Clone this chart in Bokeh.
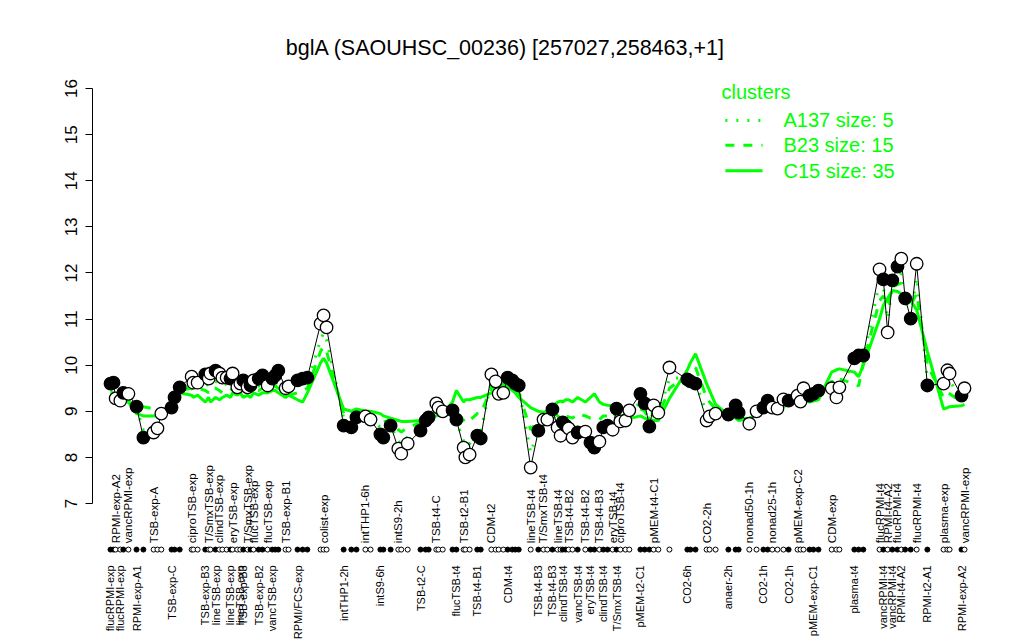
import math
from bokeh.plotting import figure
from bokeh.models import ColumnDataSource, FixedTicker, Range1d
from bokeh.core.properties import value
from bokeh.embed import file_html
from bokeh.resources import INLINE

title_text = "bglA (SAOUHSC_00236) [257027,258463,+1]"

# condition positions (order along the x axis)
pos = [0, 0.7, 1.2, 2.3, 3.0, 4.2, 6.1, 7.7, 10.1, 11.0, 11.9, 14.3, 15.0, 16.2, 19.0, 19.4, 20.4,
       22.2, 23.0, 23.4, 24.6, 25.5, 26.2, 27.2, 28.1, 28.6, 29.7, 30.4, 31.1, 32.1, 32.8, 33.5,
       34.7, 35.6, 36.8, 37.9, 38.6, 39.3, 41.0, 41.7, 43.8, 45.0, 46.1, 49.2, 49.9, 50.6,
       54.6, 56.4, 57.6, 59.7, 60.9, 63.2, 63.9, 65.6, 67.4, 68.1, 69.6, 72.6, 73.8, 74.5,
       76.3, 76.8, 77.8, 80.1, 81.0, 82.7, 83.1, 84.1, 85.9, 86.7, 89.2, 90.2, 90.9, 92.0,
       93.0, 94.1, 94.8, 95.6, 98.4, 100.2, 101.4, 102.3, 103.5, 104.7, 105.4, 105.9, 106.6,
       107.3, 108.2, 109.4, 111.2, 112.4, 113.3, 114.5, 115.4, 116.4, 117.6, 118.5, 119.4,
       120.6, 121.5, 124.1, 125.1, 126.2, 127.2, 128.3, 130.9, 135.1, 135.8, 137.0, 139.6,
       140.3, 141.7, 144.7, 146.4, 147.1, 149.6, 151.3, 152.9, 153.9, 155.0, 156.2, 157.6,
       158.8, 160.9, 161.6, 162.3, 163.7, 164.6, 165.8, 168.9, 170.0, 170.7, 174.2, 175.2,
       176.3, 180.1, 181.0, 182.0, 183.1, 184.3, 185.2, 186.1, 187.4, 188.8, 191.3, 195.1,
       196.0, 196.5, 199.3, 200.0]

expr = [9.6, 9.62, 9.28, 9.23, 9.4, 9.38, 9.1, 8.43, 8.54, 8.63, 8.95, 9.08, 9.3, 9.52, 9.75, 9.62, 9.62,
        9.8, 9.71, 9.82, 9.88, 9.82, 9.73, 9.73, 9.71, 9.82, 9.52, 9.6, 9.67, 9.52, 9.56, 9.67,
        9.71, 9.78, 9.56, 9.71, 9.78, 9.88, 9.5, 9.54, 9.67, 9.71, 9.73, 10.9, 11.08, 10.82,
        8.69, 8.65, 8.87, 8.89, 8.82, 8.5, 8.43, 8.69, 8.19, 8.08, 8.3, 8.58, 8.8, 8.87,
        9.17, 9.08, 9.0, 9.02, 8.82, 8.21, 8.0, 8.06, 8.47, 8.41, 9.8, 9.65, 9.38, 9.4,
        9.73, 9.67, 9.6, 9.56, 7.78, 8.58, 8.82, 8.82, 9.04, 8.65, 8.47, 8.76, 8.69,
        8.63, 8.43, 8.54, 8.56, 8.32, 8.21, 8.34, 8.65, 8.69, 8.6, 9.06, 8.78,
        8.8, 9.02, 9.38, 9.17, 8.67, 9.13, 8.97, 9.95, 9.69, 9.65, 9.6, 8.8,
        8.89, 8.95, 8.93, 9.13, 8.97, 8.73, 9.0, 9.08, 9.23, 9.08, 9.06, 9.26,
        9.23, 9.34, 9.21, 9.5, 9.34, 9.38, 9.45, 9.5, 9.3, 9.52, 10.15, 10.21,
        10.21, 12.08, 11.86, 10.71, 11.84, 12.14, 12.31, 11.45, 11.01, 12.2, 9.56, 9.6,
        9.89, 9.82, 9.34, 9.5]

filled = [1, 1, 0, 0, 1, 0, 1, 1, 0, 0, 0, 1, 1, 1, 0, 0, 0,
          1, 0, 0, 1, 0, 0, 0, 1, 0, 0, 0, 1, 0, 1, 0,
          1, 1, 0, 1, 1, 1, 0, 0, 1, 1, 1, 0, 0, 0,
          1, 1, 1, 0, 0, 1, 1, 1, 0, 0, 0, 1, 1, 1,
          0, 0, 0, 1, 1, 0, 0, 0, 1, 1, 0, 0, 0, 0,
          1, 1, 1, 1, 0, 1, 0, 0, 1, 0, 0, 1, 1,
          0, 0, 1, 0, 1, 1, 0, 1, 1, 0, 1, 0,
          0, 0, 1, 1, 1, 0, 0, 0, 1, 1, 1, 0,
          0, 0, 1, 1, 1, 0, 0, 1, 1, 0, 0, 0,
          1, 0, 0, 0, 1, 1, 1, 0, 0, 0, 1, 1,
          1, 0, 1, 0, 1, 1, 0, 1, 1, 0, 1, 0,
          0, 0, 1, 0]

labels = ["flucRPMI-exp", "", "RPMI-exp-A2", "flucRPMI-exp", "", "vancRPMI-exp", "RPMI-exp-A1", "",
          "TSB-exp-A", "", "", "TSB-exp-C", "", "", "ciproTSB-exp", "", "",
          "TSB-exp-B3", "T/SmxTSB-exp", "", "lineTSB-exp", "clindTSB-exp", "", "", "lineTSB-exp",
          "eryTSB-exp", "", "lineTSB-exp", "TSB-exp-B3", "T/SmxTSB-exp", "", "flucTSB-exp",
          "TSB-exp-B2", "", "flucTSB-exp", "vancTSB-exp", "", "", "TSB-exp-B1", "", "RPMI/FCS-exp",
          "", "", "", "colist-exp", "",
          "intTHP1-2h", "", "", "intTHP1-6h", "", "intS9-6h", "", "", "intS9-2h", "", "",
          "TSB-t2-C", "", "", "TSB-t4-C", "", "", "", "flucTSB-t4", "TSB-t2-B1", "", "",
          "TSB-t4-B1", "", "CDM-t2", "", "", "", "CDM-t4", "", "", "",
          "lineTSB-t4", "TSB-t4-B3", "T/SmxTSB-t4", "", "TSB-t4-B3", "lineTSB-t4", "",
          "clindTSB-t4", "", "TSB-t4-B2", "", "vancTSB-t4", "TSB-t4-B2", "eryTSB-t4", "",
          "TSB-t4-B3", "clindTSB-t4", "", "eryTSB-t4", "T/SmxTSB-t4", "ciproTSB-t4", "", "",
          "pMEM-t2-C1", "", "", "pMEM-t4-C1", "", "", "CO2-6h", "", "", "CO2-2h", "", "",
          "anaer-2h", "", "", "nonad50-1h", "", "CO2-1h", "", "nonad25-1h", "", "",
          "CO2-1h", "pMEM-exp-C2", "", "", "", "pMEM-exp-C1", "", "CDM-exp", "", "",
          "plasma-t4", "", "", "flucRPMI-t4", "vancRPMI-t4", "RPMI-t4-A2", "vancRPMI-t4",
          "flucRPMI-t4", "RPMI-t4-A2", "", "", "flucRPMI-t4", "RPMI-t2-A1", "plasma-exp",
          "", "", "RPMI-exp-A2", "vancRPMI-exp"]

label_row = ["B", "", "T", "B", "", "T", "B", "", "T", "", "", "B", "", "", "T", "", "",
             "B", "T", "", "B", "T", "", "", "B", "T", "", "B", "B", "T", "", "T",
             "B", "", "T", "B", "", "", "T", "", "B", "", "", "", "T", "",
             "B", "", "", "T", "", "B", "", "", "T", "", "", "B", "", "", "T", "", "", "",
             "B", "T", "", "", "B", "", "T", "", "", "", "B", "", "", "",
             "T", "B", "T", "", "B", "T", "", "B", "", "T", "", "B", "T", "B", "",
             "T", "B", "", "T", "B", "T", "", "", "B", "", "", "T", "", "", "B", "", "",
             "T", "", "", "B", "", "", "T", "", "B", "", "T", "", "", "B", "T", "", "", "",
             "B", "", "T", "", "", "B", "", "", "T", "B", "T", "B", "T", "B", "", "", "T",
             "B", "T", "", "", "B", "T"]

# cluster profiles
c_A137 = [9.45, 9.45, 9.35, 9.3, 9.3, 9.25, 9.05, 8.6, 8.7, 8.75, 8.9, 9.1, 9.3, 9.5, 9.55, 9.5, 9.55,
          9.6, 9.55, 9.6, 9.65, 9.6, 9.55, 9.6, 9.55, 9.6, 9.45, 9.5, 9.55, 9.45, 9.5, 9.55,
          9.55, 9.6, 9.5, 9.6, 9.6, 9.65, 9.45, 9.45, 9.55, 9.6, 9.6, 10.55, 10.7, 10.55,
          8.85, 8.8, 8.9, 8.9, 8.85, 8.65, 8.6, 8.7, 8.35, 8.3, 8.45, 8.65, 8.8, 8.85,
          9.05, 9.0, 8.95, 8.95, 8.8, 8.35, 8.25, 8.3, 8.6, 8.55, 9.65, 9.55, 9.4, 9.45,
          9.65, 9.6, 9.55, 9.5, 8.1, 8.6, 8.8, 8.8, 8.95, 8.7, 8.6, 8.75, 8.7,
          8.65, 8.55, 8.6, 8.6, 8.45, 8.4, 8.45, 8.7, 8.7, 8.65, 8.95, 8.85,
          8.85, 8.95, 9.2, 9.1, 8.8, 9.05, 8.95, 9.7, 9.75, 9.7, 9.65, 8.95,
          8.95, 8.95, 8.95, 9.05, 8.95, 8.8, 8.95, 9.05, 9.15, 9.05, 9.05, 9.2,
          9.2, 9.3, 9.2, 9.4, 9.3, 9.35, 9.4, 9.45, 9.35, 9.5, 10.1, 10.15,
          10.15, 11.8, 11.7, 11.0, 11.7, 11.9, 12.0, 11.4, 11.1, 11.9, 9.7, 9.5,
          9.7, 9.65, 9.3, 9.4]

c_B23 = [9.4, 9.4, 9.3, 9.25, 9.25, 9.2, 9.15, 9.1, 9.05, 9.0, 9.0, 9.15, 9.3, 9.45, 9.5, 9.45, 9.5,
         9.45, 9.4, 9.5, 9.5, 9.45, 9.4, 9.45, 9.45, 9.5, 9.4, 9.45, 9.5, 9.4, 9.45, 9.5,
         9.45, 9.5, 9.45, 9.55, 9.55, 9.5, 9.4, 9.35, 9.4, 9.45, 9.5, 10.3, 10.4, 10.3,
         8.95, 8.9, 9.0, 8.98, 8.95, 8.8, 8.78, 8.8, 8.6, 8.55, 8.65, 8.75, 8.82, 8.85,
         9.0, 8.98, 8.95, 9.05, 9.0, 8.8, 8.75, 8.8, 8.95, 8.95, 9.5, 9.5, 9.45, 9.5,
         9.6, 9.55, 9.5, 9.4, 8.6, 8.8, 8.9, 8.9, 9.0, 8.9, 8.85, 8.95, 8.9,
         8.88, 8.85, 8.95, 8.9, 8.85, 8.85, 8.82, 8.9, 8.9, 8.85, 9.0, 8.88,
         8.82, 8.9, 9.05, 9.0, 8.82, 8.95, 8.9, 9.5, 9.8, 9.85, 9.95, 9.3,
         9.2, 9.05, 8.95, 8.95, 8.88, 8.82, 8.95, 9.0, 9.1, 9.05, 9.05, 9.15,
         9.18, 9.25, 9.18, 9.32, 9.25, 9.3, 9.32, 9.65, 9.6, 9.7, 9.6, 9.55,
         10.05, 11.4, 11.5, 11.3, 11.7, 11.75, 11.78, 11.45, 11.3, 11.55, 10.0, 9.3,
         9.4, 9.38, 9.2, 9.25]

c_C15 = [9.35, 9.35, 9.3, 9.25, 9.25, 9.2, 8.95, 8.9, 8.9, 8.9, 8.95, 9.2, 9.3, 9.4, 9.35, 9.3, 9.35,
         9.2, 9.3, 9.2, 9.3, 9.25, 9.3, 9.35, 9.3, 9.4, 9.35, 9.4, 9.3, 9.35, 9.3, 9.4,
         9.35, 9.4, 9.4, 9.45, 9.45, 9.4, 9.3, 9.35, 9.25, 9.2, 9.4, 10.05, 10.15, 10.05,
         9.05, 9.0, 9.05, 9.0, 9.0, 8.95, 8.9, 8.85, 8.8, 8.78, 8.78, 8.8, 8.82, 8.85,
         8.9, 8.92, 8.95, 9.2, 9.45, 9.2, 9.25, 9.25, 9.3, 9.3, 9.4, 9.45, 9.5, 9.6,
         9.55, 9.45, 9.4, 9.3, 9.08, 9.0, 8.98, 9.0, 9.1, 9.2, 9.22, 9.2, 9.25,
         9.25, 9.2, 9.3, 9.2, 9.3, 9.38, 9.2, 9.15, 9.13, 9.12, 9.1, 8.9,
         8.8, 8.84, 8.9, 8.85, 8.82, 8.8, 8.8, 9.28, 9.9, 10.05, 10.25, 9.6,
         9.45, 9.15, 8.92, 8.85, 8.8, 8.85, 8.92, 8.98, 9.0, 9.05, 9.08, 9.1,
         9.15, 9.2, 9.15, 9.25, 9.2, 9.22, 9.25, 9.85, 9.9, 9.92, 9.85, 9.75,
         10.0, 11.0, 11.3, 11.45, 11.62, 11.6, 11.55, 11.5, 11.4, 11.2, 10.3, 9.05,
         9.08, 9.1, 9.12, 9.15]

cluster_names = ["A137 size: 5", "B23 size: 15", "C15 size: 35"]
y_ticks = [7, 8, 9, 10, 11, 12, 13, 14, 15, 16]

FONT = "Liberation Sans"
GREEN = "#00FF00"

p = figure(width=1010, height=640, output_backend="svg", toolbar_location=None,
           x_range=Range1d(-4.215, 210.77), y_range=Range1d(4.028, 17.911),
           x_axis_location=None, min_border_left=92, min_border_right=0,
           min_border_top=0, min_border_bottom=0)
p.outline_line_color = None
p.grid.visible = False
p.background_fill_color = "white"

ax = p.yaxis[0]
ax.ticker = FixedTicker(ticks=y_ticks)
ax.bounds = (7, 16)
ax.minor_tick_line_color = None
ax.major_tick_out = 7
ax.major_tick_in = 0
ax.major_label_orientation = "vertical"
ax.major_label_text_font = FONT
ax.major_label_text_font_size = "17px"
ax.major_label_text_color = "black"
ax.major_label_standoff = 8
ax.axis_line_color = "black"
ax.major_tick_line_color = "black"

# cluster profile lines
p.line(pos, c_C15, line_color=GREEN, line_width=3)
p.line(pos, c_B23, line_color=GREEN, line_width=3, line_dash="9 9")
p.line(pos, c_A137, line_color=GREEN, line_width=3, line_dash="2 9")

# expression line and points
fills = ["black" if f else "white" for f in filled]
src = ColumnDataSource(dict(x=pos, y=expr, fc=fills, row=[6.0] * len(pos)))
p.line("x", "y", source=src, line_color="black", line_width=1)
p.scatter("x", "y", source=src, size=12.5, fill_color="fc", line_color="black", line_width=1.3)
p.scatter("x", "row", source=src, size=5, fill_color="fc", line_color="black", line_width=1)

# condition labels
tx, ty, tt = [], [], []
bx, by, bt = [], [], []
for x, lab, r in zip(pos, labels, label_row):
    if not lab:
        continue
    if r == "T":
        tx.append(x); ty.append(6.14); tt.append(lab)
    else:
        bx.append(x); by.append(5.66); bt.append(lab)
p.text(tx, ty, text=tt, angle=math.pi / 2, text_align="left", text_baseline="middle",
       text_font=value(FONT), text_font_size="11.5px", text_color="black")
p.text(bx, by, text=bt, angle=math.pi / 2, text_align="right", text_baseline="middle",
       text_font=value(FONT), text_font_size="11px", text_color="black")

# title
p.text([92.5], [16.89], text=[title_text], text_align="center", text_baseline="middle",
       text_font=value(FONT), text_font_size="21.5px", text_color="black")

# legend
p.text([143.1], [15.92], text=["clusters"], text_align="left", text_baseline="middle",
       text_font=value(FONT), text_font_size="20px", text_color=GREEN)
leg_y = [15.31, 14.77, 14.22]
dashes = ["2 9", "9 9", "solid"]
for yy, nm, dsh in zip(leg_y, cluster_names, dashes):
    p.line([144.0, 152.7], [yy, yy], line_color=GREEN, line_width=3, line_dash=dsh)
    p.text([157.6], [yy], text=[nm], text_align="left", text_baseline="middle",
           text_font=value(FONT), text_font_size="20px", text_color=GREEN)

open("out.html", "w").write(file_html(p, INLINE))
